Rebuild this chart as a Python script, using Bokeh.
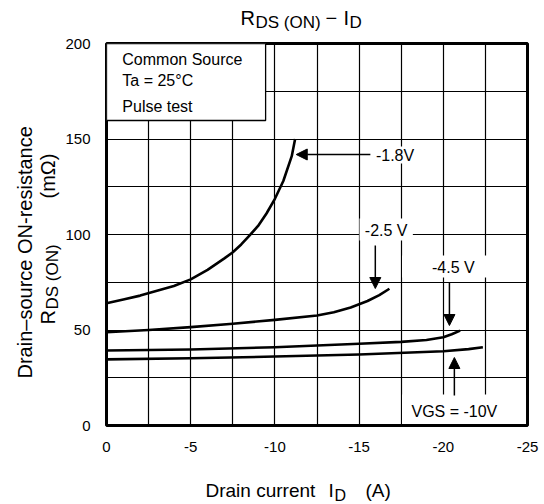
import math
from bokeh.plotting import figure
from bokeh.layouts import column, row
from bokeh.models import Range1d, FixedTicker, Label, Arrow, NormalHead
from bokeh.core.properties import value
from bokeh.embed import file_html
from bokeh.resources import INLINE

# ---------------- data ----------------
id_18 = [0, -1, -2, -3, -4, -5, -6, -7, -7.5, -8, -8.5, -9, -9.5, -10, -10.5, -11, -11.2]
r_18 = [64, 66, 68, 70.5, 73, 76.5, 81.5, 87.5, 90.7, 94.8, 99.5, 104.5, 111, 118.7, 128, 141, 150]

id_25 = [0, -2.5, -5, -7.5, -10, -12.5, -13.5, -14.5, -15.5, -16.2, -16.8]
r_25 = [48.8, 50, 51.5, 53.3, 55.3, 57.6, 59.3, 61.8, 65.2, 68.3, 71.6]

id_45 = [0, -5, -10, -15, -17.5, -19, -20, -20.5, -21]
r_45 = [39.3, 39.8, 41, 42.8, 43.8, 44.8, 46.2, 47.8, 49.7]

id_10 = [0, -5, -10, -15, -20, -21.5, -22.35]
r_10 = [34.6, 35.2, 36.1, 37.2, 38.9, 40.0, 41]

x_ticks = [0, -5, -10, -15, -20, -25]
x_tick_labels = ["0", "-5", "-10", "-15", "-20", "-25"]
y_ticks = [0, 50, 100, 150, 200]
y_tick_labels = ["0", "50", "100", "150", "200"]
x_grid = [-2.5, -5, -7.5, -10, -12.5, -15, -17.5, -20, -22.5]
y_grid = [25, 50, 75, 100, 125, 150, 175]

FONT = "Liberation Sans"

# ---------------- layout (picture pixels) ----------------
TOTAL_W, TOTAL_H = 544, 504
TITLE_H = 33
XLAB_H = 42
MID_H = TOTAL_H - TITLE_H - XLAB_H
YLAB_W = 62
MAIN_W = TOTAL_W - YLAB_W

X0, X1 = 101, 527   # frame left / right
Y0, Y1 = 425, 43    # frame bottom / top
XMIN, XMAX = 0, -25
YMIN, YMAX = 0, 200
BT = Y1 - TITLE_H             # border top of middle row
BB = TITLE_H + MID_H - Y0     # border bottom of middle row


def dx(px):
    return XMIN + (px - X0) / (X1 - X0) * (XMAX - XMIN)


def dy(py):
    return YMIN + (Y0 - py) / (Y0 - Y1) * (YMAX - YMIN)


p = figure(width=MAIN_W, height=MID_H, output_backend="svg", toolbar_location=None,
           title=None,
           x_range=Range1d(XMIN, XMAX), y_range=Range1d(YMIN, YMAX),
           min_border_left=X0 - YLAB_W, min_border_right=TOTAL_W - X1,
           min_border_top=BT, min_border_bottom=BB)
p.background_fill_color = "white"
p.border_fill_color = "white"
p.outline_line_color = "black"
p.outline_line_width = 3

for ax in (p.xaxis[0], p.yaxis[0]):
    ax.axis_line_color = None
    ax.major_tick_line_color = None
    ax.minor_tick_line_color = None
    ax.major_label_text_font = FONT
    ax.major_label_text_font_size = "15px"
    ax.major_label_text_color = "black"

p.xaxis.ticker = FixedTicker(ticks=x_ticks)
p.xaxis.major_label_overrides = {t: l for t, l in zip(x_ticks, x_tick_labels)}
p.xaxis.major_label_standoff = 10
p.yaxis.ticker = FixedTicker(ticks=y_ticks)
p.yaxis.major_label_overrides = {t: l for t, l in zip(y_ticks, y_tick_labels)}
p.yaxis.major_label_standoff = 10

p.xgrid.ticker = FixedTicker(ticks=x_grid)
p.ygrid.ticker = FixedTicker(ticks=y_grid)
for g in (p.xgrid[0], p.ygrid[0]):
    g.grid_line_color = "black"
    g.grid_line_width = 1.2
    g.grid_line_alpha = 1.0

# curves
for xs, ys in ((id_18, r_18), (id_25, r_25), (id_45, r_45), (id_10, r_10)):
    p.line(xs, ys, line_color="black", line_width=2.6, line_join="round")

# white masks behind labels
masks = [
    (357, 411, 218, 240),      # -2.5 V
    (400, 486, 255, 277),      # -4.5 V
    (400, 525.5, 394, 423.5),  # VGS
    (373, 413, 146, 163),      # -1.8V
]
p.quad(left=[dx(m[0]) for m in masks], right=[dx(m[1]) for m in masks],
       top=[dy(m[2]) for m in masks], bottom=[dy(m[3]) for m in masks],
       fill_color="white", line_color=None)
# inset box
p.quad(left=[dx(X0)], right=[dx(262)], top=[dy(Y1)], bottom=[dy(120)],
       fill_color="white", line_color="black", line_width=1.3)


def lab(text, px, py, size, align="left", baseline="middle"):
    p.add_layout(Label(x=dx(px), y=dy(py), text=text, text_font=FONT,
                       text_font_size=f"{size}px", text_color="black",
                       text_align=align, text_baseline=baseline))


lab("Common Source", 117, 59, 16)
lab("Ta = 25°C", 117, 80, 16)
lab("Pulse test", 117, 106, 16)

lab("-1.8V", 393, 155, 16, align="center")
lab("-2.5 V", 384, 230, 16, align="center")
lab("-4.5 V", 452, 267, 16, align="center")
lab("VGS = -10V", 453, 411, 16, align="center")

arrows = [
    (368, 154, 293, 154),
    (373, 245, 373, 288),
    (448, 282, 448, 325),
    (453, 395, 453, 357),
]
for xa, ya, xb, yb in arrows:
    p.add_layout(Arrow(end=NormalHead(size=11, fill_color="black", line_color="black"),
                       x_start=dx(xa), y_start=dy(ya), x_end=dx(xb), y_end=dy(yb),
                       line_color="black", line_width=1.5))


# ---------------- text panels ----------------
def text_fig(w, h, bt=0, bb=0):
    f = figure(width=w, height=h, output_backend="svg", toolbar_location=None,
               title=None,
               x_range=Range1d(0, w), y_range=Range1d(0, h - bt - bb),
               min_border_left=0, min_border_right=0,
               min_border_top=bt, min_border_bottom=bb,
               x_axis_type=None, y_axis_type=None)
    f.grid.visible = False
    f.outline_line_color = None
    f.background_fill_color = "white"
    f.border_fill_color = "white"
    return f


def put(f, ox, frame_bottom, text, px, py, size, angle=0.0):
    # px, py: picture pixels; text anchored at its left end, vertical middle
    f.text(x=[px - ox], y=[frame_bottom - py], text=[text], angle=angle,
           text_font=value(FONT), text_font_size=value(f"{size}px"),
           text_color="black", text_align=value("left"),
           text_baseline=value("middle"))


# title R_DS(ON) - I_D   (frame spans picture y 0..TITLE_H)
t = text_fig(TOTAL_W, TITLE_H)
put(t, 0, TITLE_H, "R", 240, 17, 20)
put(t, 0, TITLE_H, "DS (ON)", 255, 22, 17)
put(t, 0, TITLE_H, "\u2212", 325, 17, 20)
put(t, 0, TITLE_H, "I", 343, 17, 20)
put(t, 0, TITLE_H, "D", 349, 22, 17)

# y label (rotated); frame spans picture y Y1..Y0
A = math.pi / 2
yl = text_fig(YLAB_W, MID_H, BT, BB)
put(yl, 0, Y0, "Drain\u2013source ON-resistance", 24, 378, 20, A)
put(yl, 0, Y0, "R", 47, 324, 20, A)
put(yl, 0, Y0, "DS (ON)", 52, 309, 17, A)
put(yl, 0, Y0, "(m\u03a9)", 47, 198, 20, A)

# x label (frame spans picture y TITLE_H+MID_H .. TOTAL_H)
xl = text_fig(TOTAL_W, XLAB_H)
put(xl, 0, TOTAL_H, "Drain current", 205, 490, 19)
put(xl, 0, TOTAL_H, "I", 328, 490, 19)
put(xl, 0, TOTAL_H, "D", 334, 495, 16)
put(xl, 0, TOTAL_H, "(A)", 365, 490, 19)

layout = column(t, row(yl, p, spacing=0), xl, spacing=0)
open("out.html", "w").write(file_html(layout, INLINE))
